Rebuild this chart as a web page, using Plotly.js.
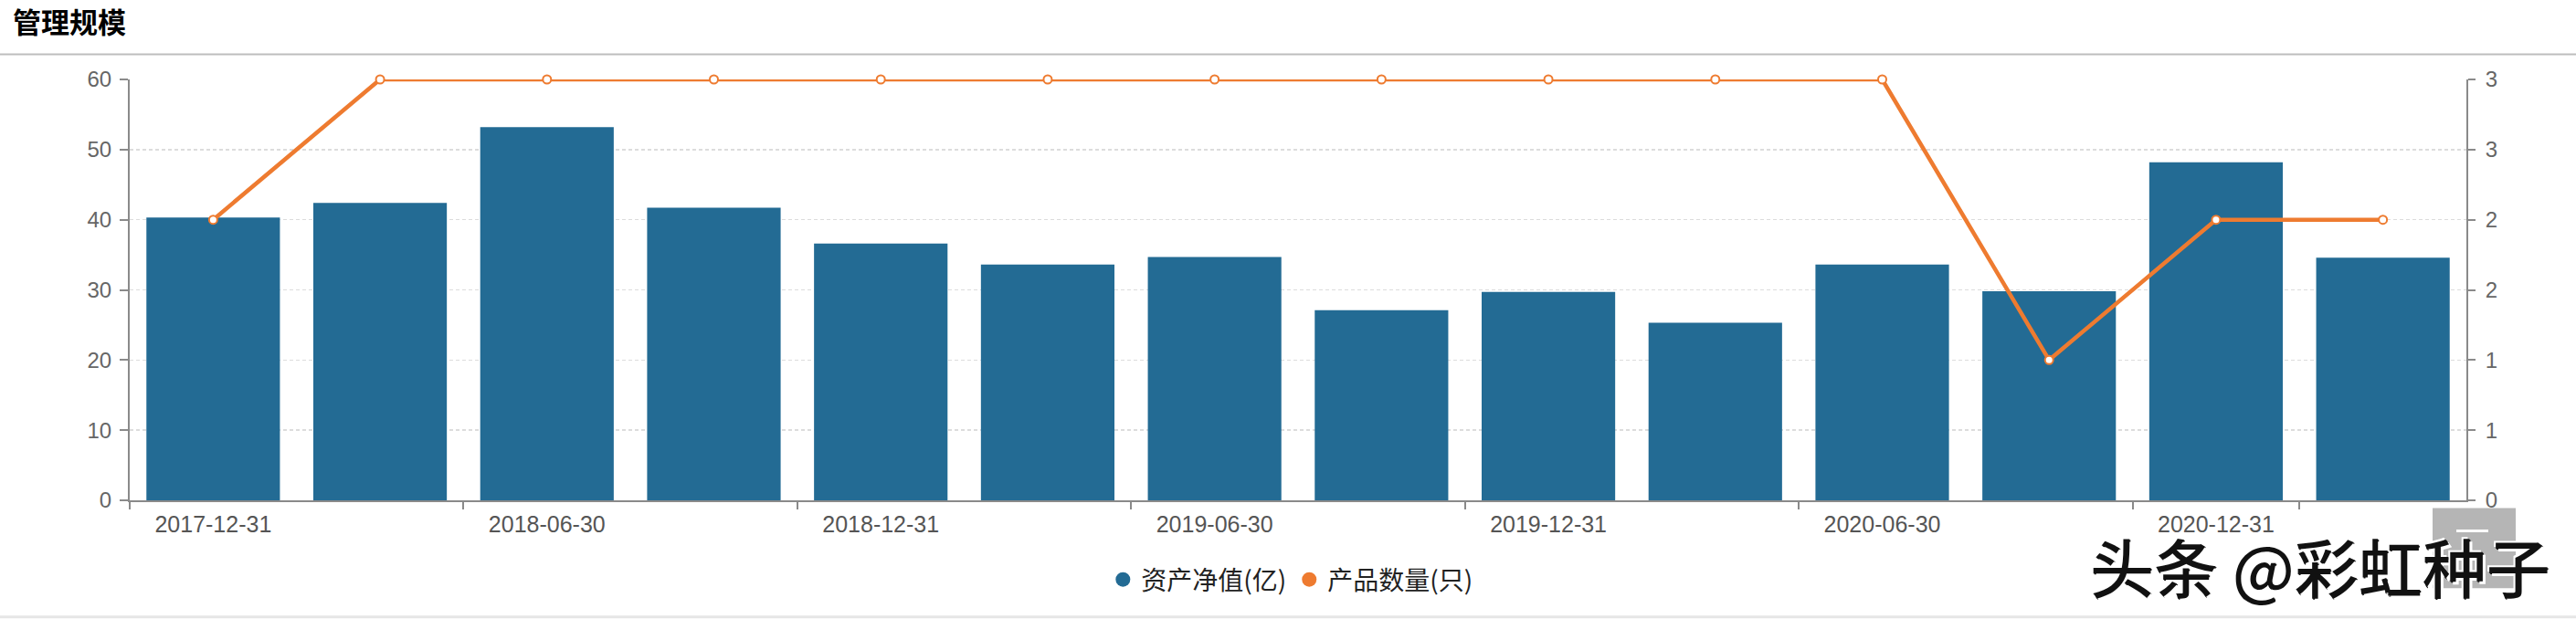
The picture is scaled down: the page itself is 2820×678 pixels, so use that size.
<!DOCTYPE html>
<html>
<head>
<meta charset="utf-8">
<script src="https://cdn.plot.ly/plotly-3.0.1.min.js"></script>
<style>
  html, body { margin: 0; padding: 0; background: #fff; }
  #chart { width: 2820px; height: 678px; }
</style>
</head>
<body>
<div id="chart"></div>
<script>
// ---- data ----
const categories = [
  '2017-12-31', '2018-03-31', '2018-06-30', '2018-09-30', '2018-12-31',
  '2019-03-31', '2019-06-30', '2019-09-30', '2019-12-31', '2020-03-31',
  '2020-06-30', '2020-09-30', '2020-12-31', '2021-03-31'
];
const netAssets = [40.3, 42.4, 53.2, 41.7, 36.6, 33.6, 34.7, 27.1, 29.7, 25.3, 33.6, 29.8, 48.2, 34.6];
const productCount = [2, 3, 3, 3, 3, 3, 3, 3, 3, 3, 3, 1, 2, 2];
const shownDates = ['2017-12-31', '2018-06-30', '2018-12-31', '2019-06-30', '2019-12-31', '2020-06-30', '2020-12-31'];
const leftTicks = [0, 10, 20, 30, 40, 50, 60];
const rightTickVals = [0, 0.5, 1, 1.5, 2, 2.5, 3];
const rightTickText = ['0', '1', '1', '2', '2', '3', '3'];
const seriesNames = ['资产净值(亿)', '产品数量(只)'];
const titleText = '管理规模';
const watermarkText = '头条 @彩虹种子';

// ---- style ----
const BLUE = '#236b94';
const ORANGE = '#ee7b30';
const AXIS = '#8a8a8a';
const LATIN = 'Liberation Sans, Arial, Noto Sans CJK SC, sans-serif';
const CJK = 'Noto Sans CJK SC, sans-serif';

const W = 2820, H = 678;
const mL = 142, mR = 120, mT = 86.5, mB = 129.5;
const pw = W - mL - mR, ph = H - mT - mB;
const px2x = p => (p - mL) / pw;
const px2y = p => (H - mB - p) / ph;

const traces = [
  {
    type: 'bar', x: categories, y: netAssets, name: seriesNames[0],
    marker: { color: BLUE }, showlegend: false, hoverinfo: 'skip'
  },
  {
    type: 'scatter', mode: 'lines+markers', x: categories, y: productCount, yaxis: 'y2',
    name: seriesNames[1], showlegend: false, hoverinfo: 'skip', cliponaxis: false,
    line: { color: ORANGE, width: 4.5 },
    marker: { symbol: 'circle', size: 9, color: '#fff', line: { color: ORANGE, width: 2 } }
  },
  {
    type: 'scatter', mode: 'markers', x: [null], y: [null], name: seriesNames[0],
    marker: { symbol: 'circle', size: 19, color: BLUE }, hoverinfo: 'skip'
  },
  {
    type: 'scatter', mode: 'markers', x: [null], y: [null], name: seriesNames[1],
    marker: { symbol: 'circle', size: 19, color: ORANGE }, hoverinfo: 'skip'
  }
];

const layout = {
  width: W, height: H,
  margin: { l: mL, r: mR, t: mT, b: mB, pad: 0 },
  paper_bgcolor: '#fff', plot_bgcolor: '#fff',
  bargap: 0.2,
  showlegend: true,
  title: {
    text: '<b>' + titleText + '</b>',
    font: { family: CJK, size: 31, color: '#000' },
    xref: 'container', x: 14 / W, xanchor: 'left',
    yref: 'container', y: 1 - 25 / H, yanchor: 'middle'
  },
  xaxis: {
    type: 'category',
    categoryorder: 'array', categoryarray: categories,
    range: [-0.5, categories.length - 0.5],
    tickmode: 'array', tickvals: shownDates, ticktext: shownDates,
    tickson: 'boundaries',
    ticks: 'outside', ticklen: 8, tickwidth: 2, tickcolor: AXIS,
    showline: true, linecolor: AXIS, linewidth: 2,
    showgrid: false, zeroline: false,
    tickfont: { family: LATIN, size: 25, color: '#555' },
    ticklabelstandoff: 3,
    fixedrange: true
  },
  yaxis: {
    range: [0, 60], tickmode: 'array', tickvals: leftTicks,
    ticks: 'outside', ticklen: 9, tickwidth: 2, tickcolor: AXIS,
    showline: true, linecolor: AXIS, linewidth: 2,
    showgrid: true, gridcolor: '#dcdcdc', gridwidth: 1.5, griddash: '4px,3px',
    zeroline: false,
    tickfont: { family: LATIN, size: 24, color: '#666' },
    ticklabelstandoff: 4,
    fixedrange: true
  },
  yaxis2: {
    overlaying: 'y', side: 'right', range: [0, 3],
    tickmode: 'array', tickvals: rightTickVals, ticktext: rightTickText,
    ticks: 'outside', ticklen: 8, tickwidth: 2, tickcolor: AXIS,
    showline: true, linecolor: AXIS, linewidth: 2,
    showgrid: false, zeroline: false,
    tickfont: { family: LATIN, size: 24, color: '#666' },
    ticklabelstandoff: 6,
    fixedrange: true
  },
  legend: {
    orientation: 'h',
    xref: 'paper', x: 0.497, xanchor: 'center',
    yref: 'container', y: 1 - 635 / H, yanchor: 'middle',
    font: { family: CJK, size: 28, color: '#222' },
    itemclick: false, itemdoubleclick: false,
    bgcolor: 'rgba(0,0,0,0)'
  },
  shapes: [
    { type: 'line', xref: 'paper', yref: 'paper',
      x0: px2x(0), x1: px2x(W), y0: px2y(59), y1: px2y(59),
      line: { color: '#bdbdbd', width: 2 }, layer: 'above' },
    { type: 'rect', xref: 'paper', yref: 'paper',
      x0: px2x(0), x1: px2x(W), y0: px2y(675), y1: px2y(678),
      line: { width: 0 }, fillcolor: '#e6e6e6', layer: 'above' },
    { type: 'rect', xref: 'paper', yref: 'paper',
      x0: px2x(2663), x1: px2x(2754), y0: px2y(557), y1: px2y(645),
      line: { width: 0 }, fillcolor: '#b5b5b5', layer: 'above' },
    { type: 'line', xref: 'paper', yref: 'paper',
      x0: px2x(2689), x1: px2x(2724), y0: px2y(582), y1: px2y(582),
      line: { color: '#fff', width: 3 }, layer: 'above' }
  ],
  annotations: [
    { text: watermarkText, xref: 'paper', yref: 'paper',
      x: px2x(2540), y: px2y(620), xanchor: 'center', yanchor: 'middle',
      showarrow: false,
      font: { family: CJK, size: 70, weight: 500, color: '#111',
              shadow: '3px 3px 0px #fff, -2px -2px 0px #fff, 1px 1px 0px #111' } }
  ]
};

Plotly.newPlot('chart', traces, layout, { staticPlot: true, displayModeBar: false });
</script>
</body>
</html>
